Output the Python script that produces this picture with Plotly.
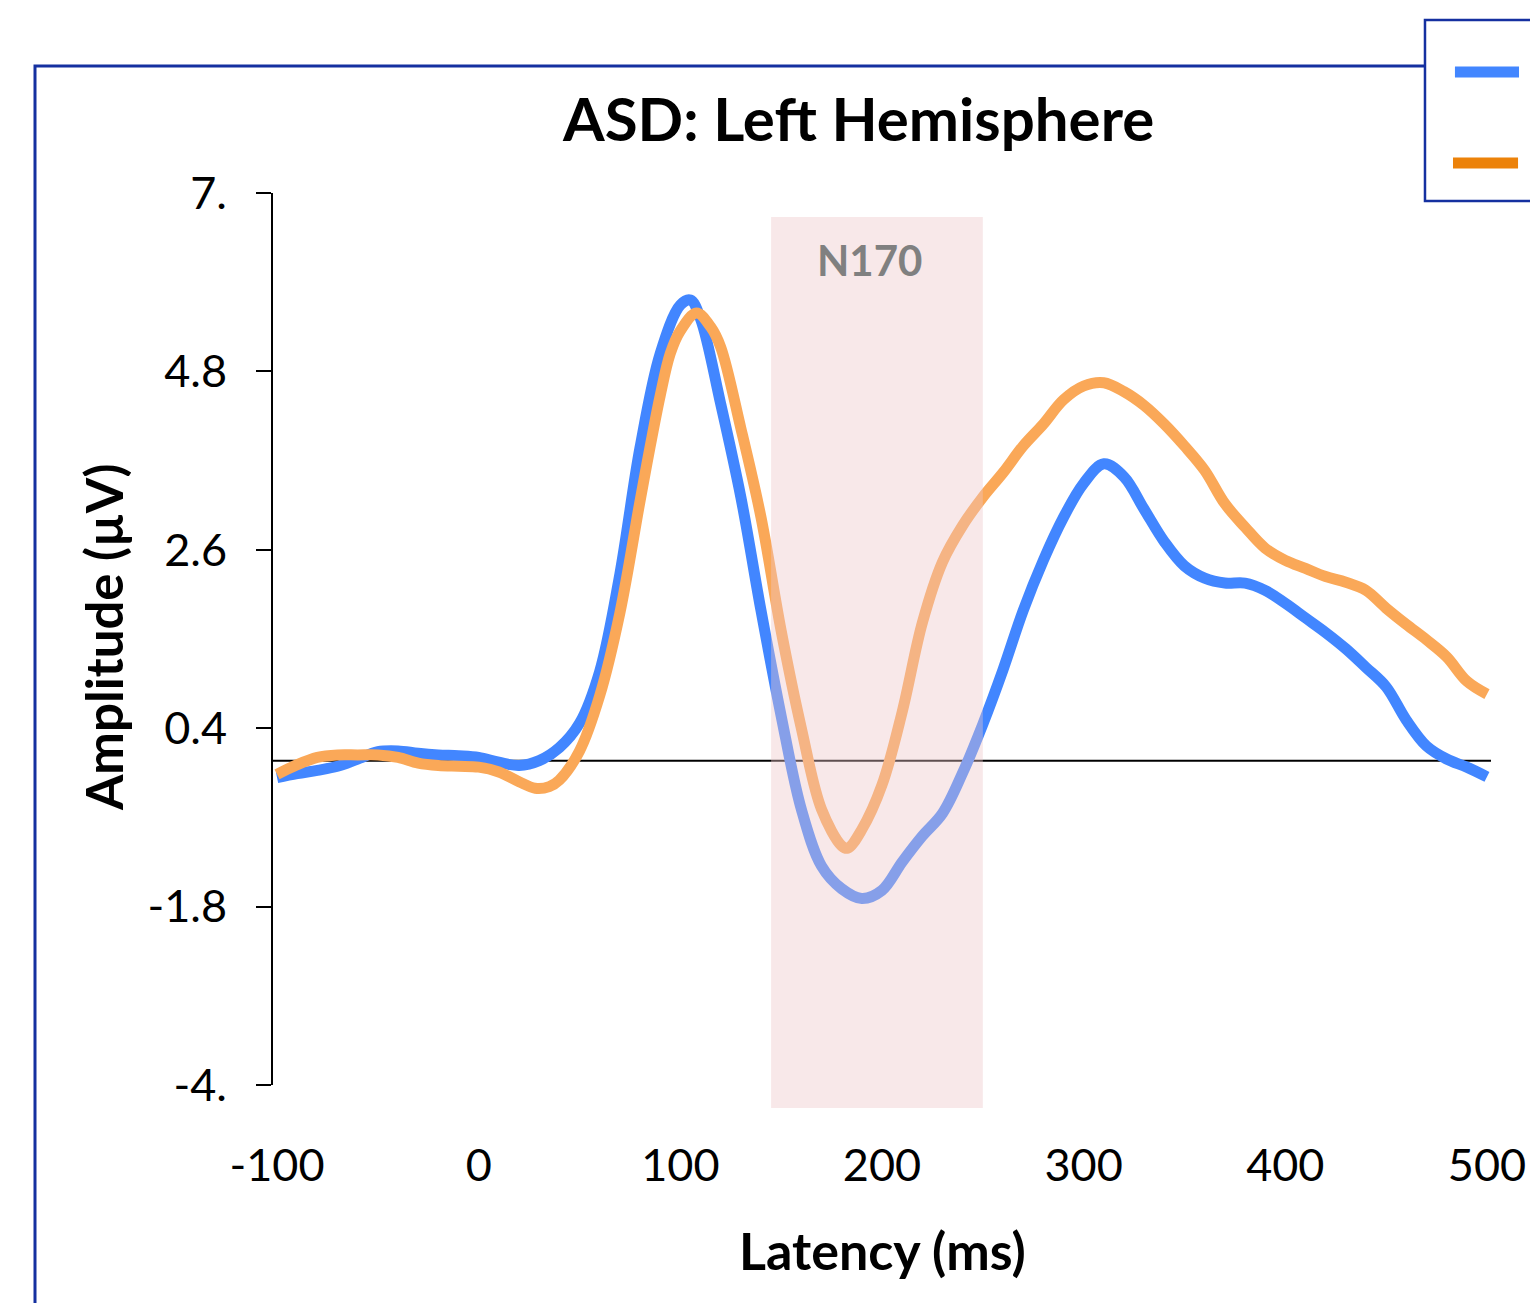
import plotly.graph_objects as go

# ---- data ----
time_blue = [-100, -90, -80, -70, -60, -50, -40, -30, -20, -10, 0, 10, 20, 30, 40, 50, 60, 70, 80, 90,
             100, 105, 110, 120, 130, 140, 150, 160, 170, 180, 190, 200, 210, 220, 230, 240, 250, 260,
             270, 280, 290, 300, 310, 320, 330, 340, 350, 360, 370, 380, 390, 400, 410, 420, 430, 440,
             450, 460, 470, 480, 490, 500]
amp_blue = [-0.21, -0.16, -0.12, -0.07, 0.02, 0.11, 0.12, 0.09, 0.07, 0.06, 0.04, -0.02, -0.06, 0.0, 0.16,
            0.46, 1.1, 2.3, 3.86, 5.02, 5.62, 5.68, 5.45, 4.4, 3.25, 1.85, 0.55, -0.6, -1.3, -1.58, -1.70,
            -1.6, -1.25, -0.93, -0.65, -0.15, 0.45, 1.12, 1.85, 2.47, 3.0, 3.42, 3.66, 3.5, 3.1, 2.7, 2.4,
            2.25, 2.19, 2.19, 2.1, 1.94, 1.76, 1.58, 1.38, 1.15, 0.91, 0.5, 0.18, 0.02, -0.08, -0.2]

time_orange = [-100, -90, -80, -70, -60, -50, -40, -30, -20, -10, 0, 10, 20, 28, 35, 40, 50, 60, 70, 80,
               85, 90, 95, 100, 108, 115, 120, 130, 140, 150, 160, 170, 180, 183, 190, 200, 210, 220, 230,
               240, 250, 260, 270, 280, 290, 300, 310, 320, 330, 340, 350, 360, 370, 380, 390, 400, 410,
               420, 430, 440, 450, 460, 470, 480, 490, 500]
amp_orange = [-0.17, -0.05, 0.04, 0.07, 0.07, 0.07, 0.04, -0.03, -0.06, -0.07, -0.08, -0.14, -0.26, -0.34,
              -0.32, -0.24, 0.12, 0.8, 1.82, 3.2, 3.87, 4.5, 5.02, 5.3, 5.52, 5.35, 5.1, 4.1, 3.0, 1.6,
              0.4, -0.6, -1.05, -1.08, -0.85, -0.3, 0.6, 1.7, 2.45, 2.9, 3.25, 3.55, 3.88, 4.15, 4.45,
              4.62, 4.66, 4.55, 4.38, 4.15, 3.88, 3.58, 3.17, 2.88, 2.62, 2.47, 2.37, 2.27, 2.2, 2.1,
              1.88, 1.68, 1.49, 1.28, 0.98, 0.82]

x_ticks = [-100, 0, 100, 200, 300, 400, 500]
x_tick_labels = ["-100", "0", "100", "200", "300", "400", "500"]
y_ticks = [7.0, 4.8, 2.6, 0.4, -1.8, -4.0]
y_tick_labels = ["7.", "4.8", "2.6", "0.4", "-1.8", "-4."]
n170_window = [145, 250]

FONT = "Lato"
FRAME = "#1530A0"

fig = go.Figure()
fig.add_trace(go.Scatter(x=time_blue, y=amp_blue, mode="lines", name="Blue",
                         line=dict(color="#4286FF", width=11, shape="spline", smoothing=1.0)))
fig.add_trace(go.Scatter(x=time_orange, y=amp_orange, mode="lines", name="Orange",
                         line=dict(color="#FAA858", width=11, shape="spline", smoothing=1.0)))

shapes = []
# outer frame (cropped)
shapes.append(dict(type="rect", xref="paper", yref="paper", x0=-0.1954, x1=1.06, y0=-0.27, y1=1.1424,
                   line=dict(color=FRAME, width=3), fillcolor="rgba(0,0,0,0)", layer="below"))
# legend box (cropped)
shapes.append(dict(type="rect", xref="paper", yref="paper", x0=0.9458, x1=1.06, y0=0.991, y1=1.194,
                   line=dict(color=FRAME, width=2.5), fillcolor="white", layer="above"))
shapes.append(dict(type="line", xref="paper", yref="paper", x0=0.9704, x1=1.0230, y0=1.1357, y1=1.1357,
                   line=dict(color="#4286FF", width=11), layer="above"))
shapes.append(dict(type="line", xref="paper", yref="paper", x0=0.9688, x1=1.0222, y0=1.0336, y1=1.0336,
                   line=dict(color="#EC820A", width=11), layer="above"))
# zero line
shapes.append(dict(type="line", xref="x", yref="y", x0=-102, x1=502, y0=0, y1=0,
                   line=dict(color="black", width=2), layer="below"))
# N170 window (extends slightly below the axis)
shapes.append(dict(type="rect", xref="x", yref="paper", x0=n170_window[0], x1=n170_window[1],
                   y0=(1085 - 1108) / 892, y1=(1085 - 217) / 892,
                   line=dict(width=0), fillcolor="rgba(237,197,200,0.4)", layer="above"))

annotations = [
    dict(text="<b>ASD: Left Hemisphere</b>", xref="paper", yref="paper", x=(858 - 273) / 1218,
         y=(1085 - 118) / 892, xanchor="center", yanchor="middle", showarrow=False,
         font=dict(family=FONT, size=60, color="black")),
    dict(text="<b>N170</b>", xref="x", yref="y", x=194, y=6.17, xanchor="center", yanchor="middle",
         showarrow=False, font=dict(family=FONT, size=42, color="#808080")),
    dict(text="<b>Amplitude (µV)</b>", xref="paper", yref="paper", x=(103 - 273) / 1218,
         y=(1085 - 637) / 892, xanchor="center", yanchor="middle", textangle=-90, showarrow=False,
         font=dict(family=FONT, size=51, color="black")),
    dict(text="<b>Latency (ms)</b>", xref="paper", yref="paper", x=(882 - 273) / 1218,
         y=(1085 - 1250) / 892, xanchor="center", yanchor="middle", showarrow=False,
         font=dict(family=FONT, size=52, color="black")),
]

fig.update_layout(
    width=1538, height=1303, autosize=False,
    margin=dict(l=265, r=55, t=185, b=226),
    paper_bgcolor="white", plot_bgcolor="white",
    showlegend=False,
    shapes=shapes, annotations=annotations,
    font=dict(family=FONT, color="black"),
)
fig.update_xaxes(range=[-102, 502], tickvals=x_ticks, ticktext=x_tick_labels, showgrid=False,
                 zeroline=False, showline=False, ticks="", ticklabelstandoff=50,
                 tickfont=dict(family=FONT, size=45, color="black"))
fig.update_yaxes(range=[-4, 7], tickvals=y_ticks, ticktext=y_tick_labels, showgrid=False, zeroline=False,
                 showline=True, linecolor="black", linewidth=2, ticks="outside", ticklen=15, tickwidth=2,
                 tickcolor="black", ticklabelstandoff=20, tickfont=dict(family=FONT, size=45, color="black"))

fig.write_html("out.html")
